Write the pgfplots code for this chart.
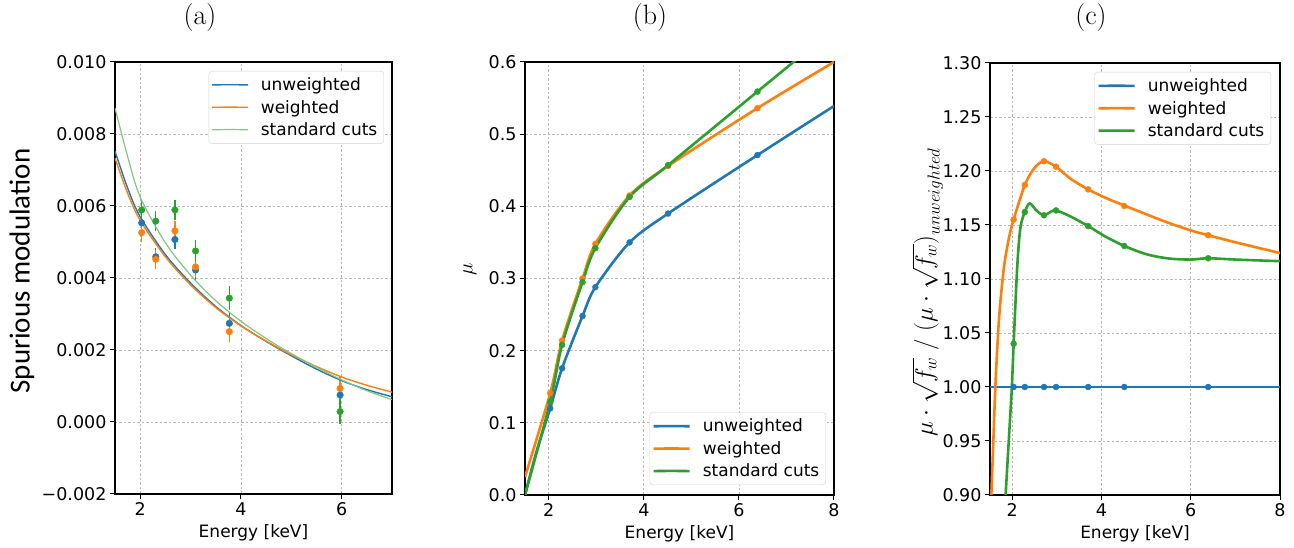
\documentclass[border=0pt]{standalone}
\usepackage{fontspec}
\usepackage{pgfplots}
\pgfplotsset{compat=1.18}
\newfontfamily\dv{DejaVu Sans}
\newfontfamily\carl{Carlito}
\definecolor{tabblue}{HTML}{1F77B4}
\definecolor{taborange}{HTML}{FF7F0E}
\definecolor{tabgreen}{HTML}{2CA02C}
\pgfplotsset{
  common/.style={
    scale only axis, anchor=south west,
    axis line style={line width=1.2pt, black},
    tick style={black, line width=1pt},
    major tick length=5pt, tick align=outside,
    xtick pos=bottom, ytick pos=left,
    grid=major,
    major grid style={line width=0.8pt, black!28, dash pattern=on 2.5pt off 2pt},
    ticklabel style={font=\dv\fontsize{17.5}{20}\selectfont},
    label style={font=\dv\fontsize{17}{20}\selectfont},
    xlabel={Energy [keV]},
    xlabel style={at={(axis description cs:0.5,0)}, anchor=base, yshift=-44pt},
    scaled y ticks=false,
    legend cell align=left,
    legend style={font=\dv\fontsize{17}{20}\selectfont, draw=black!18, rounded corners=3pt,
      fill=white, inner sep=2.5pt, nodes={inner sep=4pt}, row sep=0pt},
  },
  pts/.style={only marks, mark=*, mark size=3pt, forget plot},
  crv/.style={smooth, no marks, line width=2.6pt},
}
\begin{document}
\begin{tikzpicture}
\path[use as bounding box] (0pt,0pt) rectangle (1294pt,548pt);
% ---------------- (a)
\begin{axis}[common, at={(115pt,54pt)}, width=277pt, height=432pt,
  xmin=1.5, xmax=7, ymin=-0.002, ymax=0.010,
  xtick={2,4,6}, xticklabels={2,4,6},
  ytick={-0.002,0,0.002,0.004,0.006,0.008,0.010},
  yticklabels={−0.002,0.000,0.002,0.004,0.006,0.008,0.010},
  ylabel={Spurious modulation},
  ylabel style={font=\carl\fontsize{29}{32}\selectfont, at={(axis description cs:-0.336,0.516)}, anchor=center},
  legend style={at={(1,1)}, anchor=north east, xshift=-8pt, yshift=-9pt},
  legend image code/.code={\draw[#1] (0pt,0pt) -- (18pt,0.2pt) -- (36pt,0pt); \path (44pt,0pt);},
]
\addplot[pts, tabblue, mark size=3.3pt, error bars/.cd, y dir=both, y explicit, error mark=none,
  error bar style={line width=1.3pt, tabblue}] coordinates {
  (2.03,0.00553) +- (0,0.00025) (2.31,0.00459) +- (0,0.00025) (2.69,0.00507) +- (0,0.00027)
  (3.10,0.00422) +- (0,0.00028) (3.77,0.00274) +- (0,0.00030) (5.97,0.00075) +- (0,0.00032)};
\addplot[pts, taborange, mark size=3.3pt, error bars/.cd, y dir=both, y explicit, error mark=none,
  error bar style={line width=1.3pt, taborange}] coordinates {
  (2.03,0.00526) +- (0,0.00026) (2.31,0.00452) +- (0,0.00026) (2.69,0.00531) +- (0,0.00027)
  (3.10,0.00431) +- (0,0.00028) (3.77,0.00251) +- (0,0.00030) (5.97,0.00093) +- (0,0.00032)};
\addplot[pts, tabgreen, mark size=3.3pt, error bars/.cd, y dir=both, y explicit, error mark=none,
  error bar style={line width=1.3pt, tabgreen}] coordinates {
  (2.03,0.00589) +- (0,0.00026) (2.31,0.00558) +- (0,0.00027) (2.69,0.00589) +- (0,0.00029)
  (3.10,0.00475) +- (0,0.00030) (3.77,0.00344) +- (0,0.00033) (5.97,0.00029) +- (0,0.00035)};
\addplot[smooth, no marks, tabblue, line width=1.4pt] coordinates {
  (1.5,0.00752) (1.75,0.00650) (2.0,0.00570) (2.5,0.00465) (3.0,0.00386) (3.5,0.00321)
  (4.0,0.00268) (4.5,0.00224) (5.0,0.00184) (5.5,0.00147) (6.0,0.00115) (6.5,0.00090) (7.0,0.00070)};
\addlegendentry{unweighted}
\addplot[smooth, no marks, taborange, line width=1.4pt] coordinates {
  (1.5,0.00733) (1.75,0.00636) (2.0,0.00560) (2.5,0.00459) (3.0,0.00381) (3.5,0.00318)
  (4.0,0.00267) (4.5,0.00225) (5.0,0.00187) (5.5,0.00154) (6.0,0.00125) (6.5,0.00102) (7.0,0.00083)};
\addlegendentry{weighted}
\addplot[smooth, no marks, tabgreen!60, line width=1.2pt] coordinates {
  (1.5,0.00872) (1.75,0.00738) (2.0,0.00625) (2.5,0.00498) (3.0,0.00408) (3.5,0.00337)
  (4.0,0.00280) (4.5,0.00232) (5.0,0.00190) (5.5,0.00152) (6.0,0.00117) (6.5,0.00087) (7.0,0.00062)};
\addlegendentry{standard cuts}
\end{axis}
% ---------------- (b)
\begin{axis}[common, at={(525pt,53pt)}, width=309pt, height=433pt,
  xmin=1.5, xmax=8, ymin=0, ymax=0.6,
  xtick={2,4,6,8}, xticklabels={2,4,6,8},
  ytick={0,0.1,0.2,0.3,0.4,0.5,0.6},
  yticklabels={0.0,0.1,0.2,0.3,0.4,0.5,0.6},
  ylabel={$\mu$},
  ylabel style={font=\fontsize{22}{26}\selectfont, at={(axis description cs:-0.178,0.52)}, anchor=center},
  legend style={at={(1,0)}, anchor=south east, xshift=-8pt, yshift=10pt},
  legend image code/.code={\draw[#1] (0pt,0pt) -- (18pt,0.2pt) -- (36pt,0pt); \path (44pt,0pt);},
]
\addplot[crv, tabblue] coordinates {
  (1.5,0.0) (1.75,0.062) (2.03,0.120) (2.28,0.1756) (2.71,0.248) (2.98,0.288)
  (3.70,0.350) (4.51,0.390) (6.39,0.471) (8.0,0.539)};
\addlegendentry{unweighted}
\addplot[crv, taborange] coordinates {
  (1.5,0.025) (2.03,0.141) (2.28,0.214) (2.71,0.300) (2.98,0.348)
  (3.70,0.415) (4.51,0.456) (6.39,0.536) (8.0,0.600)};
\addlegendentry{weighted}
\addplot[crv, tabgreen] coordinates {
  (1.5,0.0) (2.03,0.129) (2.28,0.208) (2.71,0.295) (2.98,0.342)
  (3.70,0.413) (4.51,0.457) (6.39,0.559) (8.0,0.646)};
\addlegendentry{standard cuts}
\addplot[pts, tabblue] coordinates {(2.03,0.120) (2.28,0.1756) (2.71,0.248) (2.98,0.288) (3.70,0.350) (4.51,0.390) (6.39,0.471)};
\addplot[pts, taborange] coordinates {(2.03,0.141) (2.28,0.214) (2.71,0.300) (2.98,0.348) (3.70,0.415) (4.51,0.456) (6.39,0.536)};
\addplot[pts, tabgreen] coordinates {(2.03,0.129) (2.28,0.208) (2.71,0.295) (2.98,0.342) (3.70,0.413) (4.51,0.457) (6.39,0.559)};
\end{axis}
% ---------------- (c)
\begin{axis}[common, at={(990pt,53pt)}, width=290pt, height=432pt,
  xmin=1.5, xmax=8, ymin=0.9, ymax=1.3,
  xtick={2,4,6,8}, xticklabels={2,4,6,8},
  ytick={0.90,0.95,1.00,1.05,1.10,1.15,1.20,1.25,1.30},
  yticklabels={0.90,0.95,1.00,1.05,1.10,1.15,1.20,1.25,1.30},
  ylabel={$\mu\cdot\sqrt{f_w}$ / $\bigl(\mu\cdot\sqrt{f_w}\bigr)_{unweighted}$},
  ylabel style={font=\fontsize{25}{29}\selectfont, at={(axis description cs:-0.215,0.47)}, anchor=center},
  legend style={at={(1,1)}, anchor=north east, xshift=-9pt, yshift=-9pt},
  legend image code/.code={\draw[#1] (0pt,0pt) -- (18pt,0.2pt) -- (36pt,0pt); \path (44pt,0pt);},
]
\addplot[no marks, tabblue, line width=2.6pt] coordinates {(1.5,1.0) (2.03,1.0) (2.28,1.0) (2.71,1.0) (2.98,1.0) (3.70,1.0) (4.51,1.0) (6.39,1.0) (8.0,1.0)};
\addlegendentry{unweighted}
\addplot[crv, taborange] coordinates {
  (1.50,0.865) (1.53,0.90) (1.575,0.95) (1.62,1.0) (1.70,1.062) (1.81,1.110) (1.93,1.139)
  (2.03,1.155) (2.28,1.187) (2.5,1.203) (2.71,1.209) (2.98,1.204) (3.3,1.193) (3.70,1.183)
  (4.1,1.175) (4.51,1.168) (5.0,1.160) (5.5,1.152) (6.0,1.145) (6.39,1.1405) (7.0,1.134)
  (7.5,1.129) (8.0,1.124)};
\addlegendentry{weighted}
\addplot[crv, tabgreen] coordinates {
  (1.80,0.865) (1.85,0.90) (1.93,0.957) (1.99,1.0) (2.03,1.040) (2.11,1.111) (2.18,1.147)
  (2.28,1.162) (2.39,1.170) (2.55,1.163) (2.71,1.159) (2.85,1.162) (2.98,1.1635) (3.3,1.158)
  (3.70,1.149) (4.1,1.139) (4.51,1.1306) (5.0,1.123) (5.5,1.119) (6.0,1.118) (6.39,1.1192)
  (7.0,1.118) (8.0,1.1165)};
\addlegendentry{standard cuts}
\addplot[pts, tabblue] coordinates {(2.03,1.0) (2.28,1.0) (2.71,1.0) (2.98,1.0) (3.70,1.0) (4.51,1.0) (6.39,1.0)};
\addplot[pts, taborange] coordinates {(2.03,1.155) (2.28,1.187) (2.71,1.209) (2.98,1.204) (3.70,1.183) (4.51,1.1676) (6.39,1.1405)};
\addplot[pts, tabgreen] coordinates {(2.03,1.040) (2.28,1.162) (2.71,1.159) (2.98,1.1635) (3.70,1.149) (4.51,1.1306) (6.39,1.1192)};
\end{axis}
\node[font=\fontsize{28}{32}\selectfont] at (200pt,530pt) {(a)};
\node[font=\fontsize{28}{32}\selectfont] at (650pt,530pt) {(b)};
\node[font=\fontsize{28}{32}\selectfont] at (1091pt,530pt) {(c)};
\end{tikzpicture}
\end{document}
